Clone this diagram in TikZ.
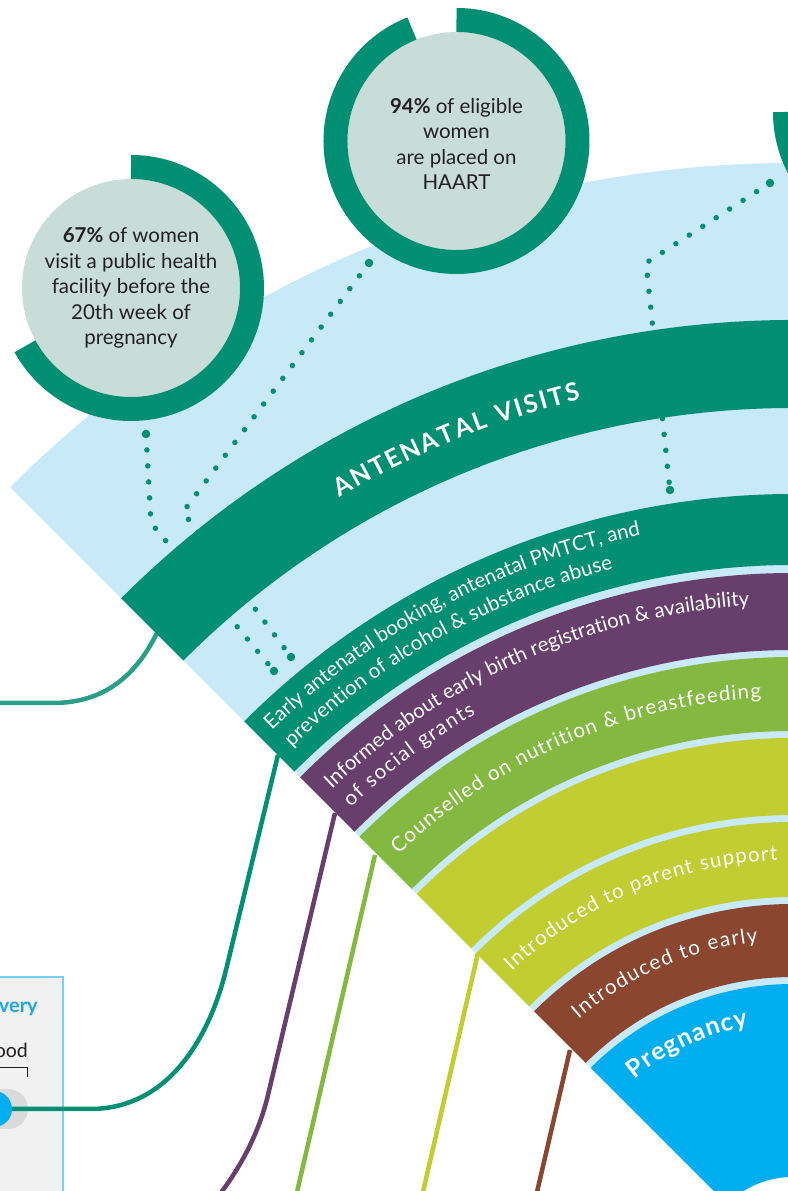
\documentclass[tikz,border=0pt]{standalone}
\usepackage{fontspec}
\setmainfont{Lato}
\usepackage{xcolor}
\usepackage{tikz}
\usetikzlibrary{positioning,calc,decorations.text}
\definecolor{FanBlue}{HTML}{C7E9F8}
\definecolor{RingGreen}{HTML}{008F72}
\definecolor{DiscGrey}{HTML}{C8DDD8}
\definecolor{SocialPurple}{HTML}{683F6C}
\definecolor{NutritionGreen}{HTML}{84B941}
\definecolor{ParentLime}{HTML}{C1CD31}
\definecolor{EarlyBrown}{HTML}{8B4630}
\definecolor{PregBlue}{HTML}{00AEEF}
\definecolor{LinkTeal}{HTML}{2A9E86}
\definecolor{BoxGrey}{HTML}{F1F1F1}
\definecolor{BoxLine}{HTML}{7CCFF2}
\definecolor{PillGrey}{HTML}{D9DADB}
\definecolor{InkDark}{HTML}{231F20}
\definecolor{HeadBlue}{HTML}{1EA7E1}
\newcommand{\bandfont}{\fontsize{20.5bp}{24bp}\selectfont}
\newcommand{\headfont}{\fontsize{25bp}{28bp}\selectfont\bfseries}
\newcommand{\statfont}{\fontsize{20.5bp}{25.5bp}\selectfont}
\tikzset{
    statdisc/.style={circle, fill=DiscGrey, minimum size=218bp, inner sep=0pt},
    statring/.style={draw=RingGreen, line width=24bp},
    stattext/.style={align=center, text=InkDark, font=\statfont, inner sep=0pt},
    link/.style={line width=4.5bp},
    bandtext/.style={decorate, decoration={text along path, text align=fit to path, text color=white, text={|\bandfont|#1}}},
    bandhead/.style={decorate, decoration={text along path, text align=fit to path, text color=white, text={|\headfont|#1}}}
}

\begin{document}
\begin{tikzpicture}[
        x=1bp, y=1bp,
        % dotted leaders from the callouts
        dotline/.style={
            draw=RingGreen,
            line width=5.5bp,
            line cap=round,
            dash pattern=on 0bp off 16bp
        },
        bigdot/.style={
            circle,
            fill=RingGreen,
            minimum size=8.5bp,
            inner sep=0pt
        }
    ]
        \useasboundingbox (-793,79) rectangle (-5,1270);
        \clip (-793,79) rectangle (-5,1270);

        % --- FAN BACKGROUND ---
        \fill[FanBlue] (0,0) -- (135:1107bp) arc[start angle=135, end angle=45, radius=1107bp] -- cycle;

        % --- DOTTED LEADERS ---
        \node[bigdot] (dotA0) at (-647,836) {};
        \coordinate (dotA1) at (-642,747);
        \node[bigdot] (dotA2) at (-519,599) {};
        \draw[dotline] (dotA0.center) -- (dotA1) -- (dotA2.center);

        \node[bigdot] (dotB0) at (-424,1007) {};
        \coordinate (dotB1) at (-610,758);
        \node[bigdot] (dotB2) at (-502,613) {};
        \draw[dotline] (dotB0.center) -- (dotB1) -- (dotB2.center);

        \node[bigdot] (dotC0) at (-23,1087) {};
        \coordinate (dotC1) at (-147,1007);
        \node[bigdot] (dotC2) at (-123,780) {};
        \draw[dotline] (dotC0.center) -- (dotC1) -- (dotC2.center);

        % --- LEGEND BOX (bottom left) ---
        \fill[BoxGrey, draw=BoxLine, line width=1.5bp] (-810,60) rectangle (-730,293);
        \node[anchor=base east, inner sep=0pt, text=HeadBlue, font=\fontsize{20bp}{22bp}\selectfont\bfseries] (boxhead) at (-755,257) {very};
        \node[anchor=base east, inner sep=0pt, text=InkDark, font=\fontsize{19.5bp}{21bp}\selectfont] (boxsub) at (-765,212) {ood};
        \coordinate (brkL) at (-800,202);
        \coordinate (brkR) at (-765,193);
        \draw[InkDark, line width=1bp] (brkL) -| (brkR);
        \fill[PillGrey, rounded corners=20bp] (-830,141) rectangle (-765,181);
        \coordinate (pilldot) at (-799,161);

        % --- CONNECTORS ---
        \coordinate (antFoot) at (-636,637);
        \coordinate (antTail) at (-800,567);
        \draw[link, LinkTeal] (antFoot) .. controls (-652,605) and (-680,567) .. (-740,567) -- (antTail);

        \coordinate (tealFoot) at (-515,515);
        \draw[link, RingGreen] (tealFoot) -- (-567,300) .. controls (-583,235) and (-623,161) .. (-703,161) -- (pilldot);
        \fill[PregBlue] (pilldot) circle (18bp);

        \coordinate (purpleFoot) at (-458,457);
        \coordinate (purpleTail) at (-590,55);
        \draw[link, SocialPurple] (purpleFoot) -- (-525,175) .. controls (-534.5,135) and (-555,95) .. (purpleTail);

        \coordinate (greenFoot) at (-418,415);
        \coordinate (greenTail) at (-499,65);
        \draw[link, NutritionGreen] (greenFoot) -- (greenTail);

        \coordinate (limeFoot) at (-315,317);
        \coordinate (limeTail) at (-373,65);
        \draw[link, ParentLime] (limeFoot) -- (limeTail);

        \coordinate (brownFoot) at (-223,220);
        \coordinate (brownTail) at (-259,65);
        \draw[link, EarlyBrown] (brownFoot) -- (brownTail);

        % --- BANDS ---
        \fill[RingGreen] (135:950bp) arc[start angle=135, end angle=45, radius=950bp] -- (45:862bp) arc[start angle=45, end angle=135, radius=862bp] -- cycle;
        \fill[RingGreen] (135:776bp) arc[start angle=135, end angle=45, radius=776bp] -- (45:705bp) arc[start angle=45, end angle=135, radius=705bp] -- cycle;
        \fill[SocialPurple] (135:697bp) arc[start angle=135, end angle=45, radius=697bp] -- (45:620bp) arc[start angle=45, end angle=135, radius=620bp] -- cycle;
        \fill[NutritionGreen] (135:613bp) arc[start angle=135, end angle=45, radius=613bp] -- (45:539bp) arc[start angle=45, end angle=135, radius=539bp] -- cycle;
        \fill[ParentLime] (135:532bp) arc[start angle=135, end angle=45, radius=532bp] -- (45:455bp) arc[start angle=45, end angle=135, radius=455bp] -- cycle;
        \fill[ParentLime] (135:448bp) arc[start angle=135, end angle=45, radius=448bp] -- (45:373bp) arc[start angle=45, end angle=135, radius=373bp] -- cycle;
        \fill[EarlyBrown] (135:366bp) arc[start angle=135, end angle=45, radius=366bp] -- (45:293bp) arc[start angle=45, end angle=135, radius=293bp] -- cycle;
        \fill[PregBlue] (0,0) -- (135:286bp) arc[start angle=135, end angle=45, radius=286bp] -- cycle;
        \fill[white] (0,0) circle (93bp);

        % --- BAND LABELS ---
        \path[bandhead={ANTENATAL VISITS}] (120.4:896bp) arc[start angle=120.4, end angle=103.7, radius=896bp];
        \path[bandtext={Early antenatal booking, antenatal PMTCT, and}] (134:750bp) arc[start angle=134, end angle=102, radius=750bp];
        \path[bandtext={prevention of alcohol {\&} substance abuse}] (133.8:724bp) arc[start angle=133.8, end angle=104.4, radius=724bp];
        \path[bandtext={Informed about early birth registration {\&} availability}] (133.8:666bp) arc[start angle=133.8, end angle=94, radius=666bp];
        \path[bandtext={of social grants}] (133.7:640bp) arc[start angle=133.7, end angle=119.7, radius=640bp];
        \path[bandtext={Counselled on nutrition {\&} breastfeeding}] (133.5:573bp) arc[start angle=133.5, end angle=93.2, radius=573bp];
        \path[bandtext={Introduced to parent support}] (133.3:410bp) arc[start angle=133.3, end angle=92.2, radius=410bp];
        \path[bandtext={Introduced to early}] (130.5:330bp) arc[start angle=130.5, end angle=96.1, radius=330bp];
        \path[bandhead={Pregnancy}] (129.7:248bp) arc[start angle=129.7, end angle=100.4, radius=248bp];

        % --- CALLOUTS ---
        \node[statdisc] (c67) at (-662,982) {};
        \draw[statring] (c67.center) ++(90:121bp) arc[start angle=90, end angle=-151.2, radius=121bp];
        \node[stattext] (t67) at (c67) {\textbf{67\%} of women\\visit a public health\\facility before the\\20th week of\\pregnancy};

        \node[statdisc] (c94) at (-336.5,1129) {};
        \draw[statring] (c94.center) ++(90:121bp) arc[start angle=90, end angle=-248.4, radius=121bp];
        \node[stattext] (t94) at ($(c94)+(0,-3)$) {\textbf{94\%} of eligible\\women\\are placed on\\HAART};

        \node[statdisc] (c75) at (113,1158) {};
        \draw[statring] (c75.center) ++(90:121bp) arc[start angle=90, end angle=-180, radius=121bp];

    \end{tikzpicture}
\end{document}
